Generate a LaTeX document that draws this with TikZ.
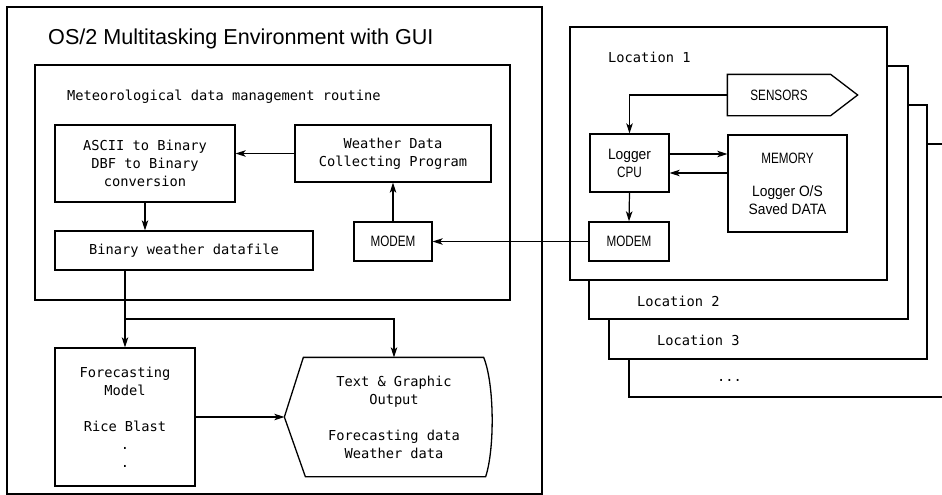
\documentclass[tikz,border=0pt]{standalone}
\usepackage{fontspec}
\usetikzlibrary{arrows.meta}
\newfontfamily\headfont{Liberation Sans}
\newfontfamily\boxfont{DejaVu Sans Mono}
\newfontfamily\labelfont[FakeStretch=0.92]{Liberation Sans}
\newfontfamily\capsfont[FakeStretch=0.78]{Liberation Sans}

\tikzset{
  frame/.style={draw, line width=1.3pt, inner sep=0pt, fill=white},
  box/.style={frame, align=center, font={\boxfont\fontsize{13.7}{18}\selectfont}},
  capsbox/.style={box, font={\capsfont\fontsize{15}{18}\selectfont}},
  labelbox/.style={box, font={\labelfont\fontsize{15}{18}\selectfont}},
  tag/.style={anchor=west, inner sep=0pt, font={\boxfont\fontsize{13.7}{18}\selectfont}},
  flow/.style={line width=1.2pt, -{Stealth[length=10pt,width=6.5pt,inset=2.5pt]}},
}

\begin{document}
\begin{tikzpicture}[x=1pt,y=-1pt]
  \useasboundingbox (0,0) rectangle (942,495);

  % host computer
  \node[frame, minimum width=535, minimum height=487] (os2) at (274.5,250.5) {};
  \node[anchor=west, inner sep=0pt, font={\headfont\fontsize{21.6}{25}\selectfont}] (title) at (48,39) {OS/2 Multitasking Environment with GUI};
  \node[frame, minimum width=475, minimum height=235] (routine) at (272.5,182.5) {};
  \node[tag] (routinelbl) at (67,97) {Meteorological data management routine};

  \node[box, minimum width=180, minimum height=77] (ascii) at (145,163.5) {ASCII to Binary\\DBF to Binary\\conversion};
  \node[box, minimum width=196, minimum height=57] (collect) at (393,153.5) {Weather Data\\Collecting Program};
  \node[box, minimum width=258, minimum height=39] (datafile) at (184,250.5) {Binary weather datafile};
  \node[capsbox, minimum width=78, minimum height=39] (hostmodem) at (393,241.5) {MODEM};

  \node[box, minimum width=140, minimum height=138] (model) at (125,417) {Forecasting\\Model\\[18pt]Rice Blast\\.\\.};
  \node[box, draw=none, fill=none, minimum width=218, minimum height=118] (output) at (394,417) {Text \& Graphic\\Output\\[18pt]Forecasting data\\Weather data};
  \draw[line width=1.3pt] (output.west) -- ([xshift=19pt]output.north west) -- ([xshift=-20pt]output.north east)
    .. controls ([xshift=-9pt,yshift=-27pt]output.north east) and ([xshift=-9pt,yshift=27pt]output.south east) .. ([xshift=-18pt]output.south east)
    -- ([xshift=21pt]output.south west) -- cycle;

  \draw[flow] (collect.west) -- (collect.west -| ascii.east);
  \draw[flow] (ascii.south) -- (ascii.south |- datafile.north);
  \draw[flow] (hostmodem.north) -- (collect.south);

  \coordinate (split) at (125,319);
  \draw[line width=1.2pt] (datafile.south -| split) -- (split);
  \draw[flow] (split) -- (model.north);
  \draw[flow] (split) -| (output.north);
  \draw[flow] (model.east) -- (output.west);

  % logger sites
  \draw[line width=1.3pt] (942,144) -- (629,144) -- (629,397) -- (942,397);
  \node[tag] (dots) at (717,380) {...};
  \node[frame, minimum width=318, minimum height=254] (loc3) at (768,232) {};
  \node[tag] (loc3lbl) at (657,340) {Location 3};
  \node[frame, minimum width=319, minimum height=253] (loc2) at (748.5,192.5) {};
  \node[tag] (loc2lbl) at (637,301) {Location 2};
  \node[frame, minimum width=317, minimum height=253] (loc1) at (728.5,153.5) {};
  \node[tag] (loc1lbl) at (608,57) {Location 1};

  \node[capsbox, draw=none, minimum width=102, minimum height=40] (sensors) at (779,95) {SENSORS};
  \draw[line width=1.3pt] (sensors.north west) -- (sensors.north east) -- ([xshift=27pt]sensors.east)
    -- (sensors.south east) -- (sensors.south west) -- cycle;
  \node[labelbox, minimum width=79, minimum height=58] (cpu) at (629.5,163) {Logger\\{\capsfont CPU}};
  \node[labelbox, minimum width=119, minimum height=97] (memory) at (787.5,183.5) {{\capsfont MEMORY}\\[15pt]Logger O/S\\Saved DATA};
  \node[capsbox, minimum width=80, minimum height=39] (sitemodem) at (629,241.5) {MODEM};

  \draw[flow] (sensors.west) -| (cpu.north);
  \draw[flow] ([yshift=9pt]cpu.east) -- ([yshift=9pt]cpu.east -| memory.west);
  \draw[flow] ([yshift=-10pt]cpu.east -| memory.west) -- ([yshift=-10pt]cpu.east);
  \draw[flow] (cpu.south) -- (sitemodem.north);

  \draw[flow] (sitemodem.west) -- (hostmodem.east);
\end{tikzpicture}
\end{document}
